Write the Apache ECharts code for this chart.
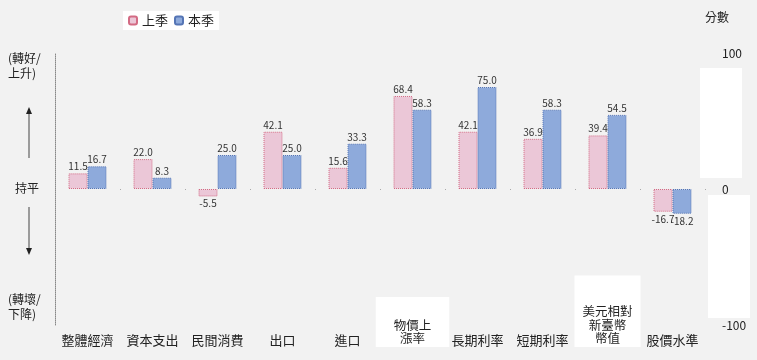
<!DOCTYPE html>
<html><head><meta charset="utf-8">
<script src="https://cdn.jsdelivr.net/npm/echarts@6/dist/echarts.min.js"></script>
<style>html,body{margin:0;padding:0;background:#f2f2f2}#c{width:757px;height:360px}</style>
</head><body><div id="c"></div>
<script>
const categories = ['整體經濟','資本支出','民間消費','出口','進口','物價上\n漲率','長期利率','短期利率','美元相對\n新臺幣\n幣值','股價水準'];
const lastQuarter = [11.5, 22.0, -5.5, 42.1, 15.6, 68.4, 42.1, 36.9, 39.4, -16.7];
const thisQuarter = [16.7, 8.3, 25.0, 25.0, 33.3, 58.3, 75.0, 58.3, 54.5, -18.2];
const seriesNames = ['上季','本季'];
const yTicks = [-100, 0, 100];

const FONT = '"Noto Sans CJK TC", "Noto Sans", sans-serif';
const chart = echarts.init(document.getElementById('c'));

const catData = categories.map(function(c){
  if (c.indexOf('物價') === 0) return {value:c, textStyle:{backgroundColor:'#fff', padding:[21,18,2,18], verticalAlign:'bottom', lineHeight:13.5, fontSize:12.5}};
  if (c.indexOf('美元') === 0) return {value:c, textStyle:{backgroundColor:'#fff', padding:[29,8,2,8], verticalAlign:'bottom', lineHeight:13.5, fontSize:12.5}};
  return c;
});

const lbl = {show:true, fontSize:10, color:'#333', fontFamily:FONT, distance:2,
  formatter: function(p){ return p.value.toFixed(1); }};

chart.setOption({
  backgroundColor:'#f2f2f2',
  animation:false,
  textStyle:{fontFamily:FONT},
  legend:{
    data:seriesNames, left:123, top:11, backgroundColor:'#fff', padding:[3,5],
    itemWidth:8, itemHeight:8, itemGap:6,
    textStyle:{fontSize:13, color:'#222', fontFamily:FONT}
  },
  grid:{left:55, right:52, top:53, bottom:35, containLabel:false, outerBoundsMode:'none'},
  xAxis:[{
    type:'category', data:catData,
    axisLine:{show:false, onZero:false}, axisTick:{show:false},
    axisLabel:{interval:0, fontSize:13, color:'#222', verticalAlign:'bottom', margin:22, lineHeight:13, fontFamily:FONT}
  },{
    type:'category', data:categories, position:'bottom',
    axisLine:{show:false, onZero:true}, axisTick:{show:true, length:1, lineStyle:{color:'#aaa'}},
    axisLabel:{show:false}
  }],
  yAxis:[{
    type:'value', min:-100, max:100, interval:100, position:'left',
    axisLine:{show:true, lineStyle:{color:'#888', type:'dotted', width:1}},
    axisTick:{show:false}, axisLabel:{show:false}, splitLine:{show:false}
  },{
    type:'value', min:yTicks[0], max:yTicks[2], interval:100, position:'right',
    name:'分數', nameLocation:'end', nameGap:30,
    nameTextStyle:{align:'left', fontSize:12, color:'#222', fontFamily:FONT},
    axisLine:{show:false}, axisTick:{show:false}, splitLine:{show:false},
    axisLabel:{show:true, align:'left', margin:17, fontSize:12, color:'#222', fontFamily:FONT}
  }],
  series:[{
    name:seriesNames[0], type:'bar', data:lastQuarter, barWidth:19, barGap:'0%',
    itemStyle:{color:'#ebc7d7', borderColor:'#d36b84', borderType:'dotted', borderWidth:1},
    label:Object.assign({}, lbl, {position:'top'})
  },{
    name:seriesNames[1], type:'bar', data:thisQuarter, barWidth:19, barGap:'0%',
    itemStyle:{color:'#8eaadb', borderColor:'#5575b5', borderType:'dotted', borderWidth:1},
    label:Object.assign({}, lbl, {position:'top'})
  }],
  graphic:[
    {type:'rect', shape:{x:700,y:68,width:42,height:110}, style:{fill:'#fff'}, z:-1},
    {type:'rect', shape:{x:708,y:195,width:42,height:123}, style:{fill:'#fff'}, z:-1},
    {type:'text', left:8, top:51, style:{text:'(轉好/\n上升)', font:'12px '+FONT, fill:'#222', lineHeight:15}},
    {type:'line', shape:{x1:29,y1:112,x2:29,y2:158}, style:{stroke:'#444', lineWidth:1}},
    {type:'polygon', shape:{points:[[29,107],[26,114],[32,114]]}, style:{fill:'#222'}},
    {type:'text', left:15, top:182, style:{text:'持平', font:'12px '+FONT, fill:'#222'}},
    {type:'line', shape:{x1:29,y1:207,x2:29,y2:250}, style:{stroke:'#444', lineWidth:1}},
    {type:'polygon', shape:{points:[[29,255],[26,248],[32,248]]}, style:{fill:'#222'}},
    {type:'text', left:8, top:292, style:{text:'(轉壞/\n下降)', font:'12px '+FONT, fill:'#222', lineHeight:15}}
  ]
});
chart.setOption({series:[
  {data:lastQuarter.map(function(v){ return v<0 ? {value:v, label:{position:'bottom'}} : v; })},
  {data:thisQuarter.map(function(v){ return v<0 ? {value:v, label:{position:'bottom'}} : v; })}
]});
</script></body></html>
